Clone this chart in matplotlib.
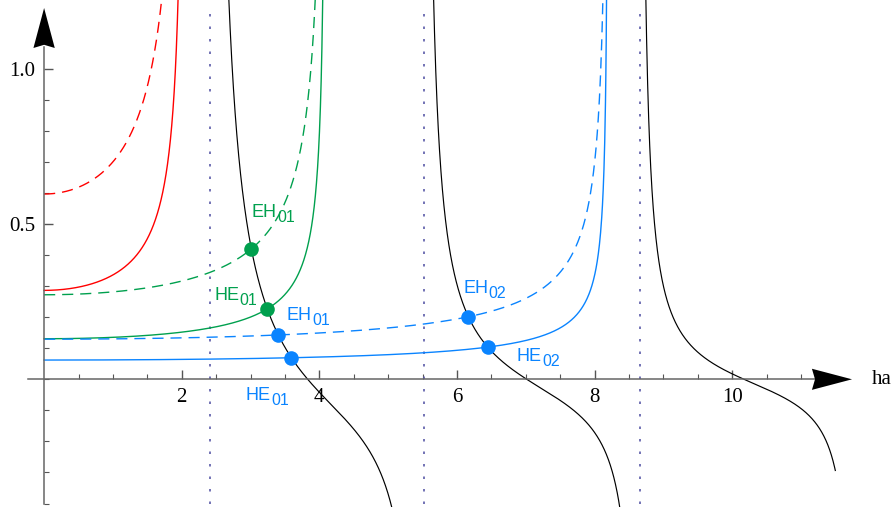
import numpy as np
import matplotlib.pyplot as plt
from matplotlib.patches import Polygon, Rectangle

plt.rcParams['font.family'] = ['Liberation Serif', 'DejaVu Serif']

# cladding curves: normalised frequency V of each family, and colours
v_values = [2.05, 4.1, 8.2]
v_colors = ['#ff0000', '#00a04e', '#0a84ff']
index_ratio = 0.48          # (n2/n1)^2, scales the solid (HE) curves
j0_zeros = [2.405, 5.520, 8.654]
ha_max = 11.5

# labelled crossings with the core curve
mode_names = ['EH', 'HE', 'EH', 'HE', 'EH', 'HE']
mode_index = ['01', '01', '01', '01', '02', '02']
mode_family = [1, 1, 2, 2, 2, 2]
mode_dashed = [True, False, True, False, True, False]
mode_branch = [0, 0, 0, 0, 1, 1]
label_x = [3.02, 2.47, 3.53, 2.93, 6.09, 6.87]
label_y = [0.524, 0.255, 0.191, -0.067, 0.278, 0.059]

# bessel functions from their integral forms (no scipy here)
t_j = np.linspace(0, np.pi, 801)
t_k = np.linspace(0, 12, 2401)

def besselj(n, x):
    f = np.cos(n * t_j[None, :] - x[:, None] * np.sin(t_j[None, :]))
    return np.trapezoid(f, t_j, axis=1) / np.pi

def besselk(n, x):
    f = np.exp(-x[:, None] * np.cosh(t_k[None, :])) * np.cosh(n * t_k[None, :])
    return np.trapezoid(f, t_k, axis=1)

def core(x):
    return -besselj(1, x) / (x * besselj(0, x))

def cladding(x, v):
    w = np.sqrt(v**2 - x**2)
    return besselk(1, w) / (w * besselk(0, w))

def crossing(v, scale, lo, hi):
    x = np.linspace(lo, min(hi, np.sqrt(v**2 - 0.04)), 2000)
    d = core(x) - scale * cladding(x, v)
    i = np.where(np.sign(d[:-1]) != np.sign(d[1:]))[0][0]
    return x[i] - d[i] * (x[i+1] - x[i]) / (d[i+1] - d[i])


fig = plt.figure(figsize=(8.94, 5.07), dpi=100)
ax = fig.add_axes([0, 0, 1, 1])
ax.set_xlim(-0.641, 12.353)
ax.set_ylim(-0.4111, 1.2212)
ax.patch.set_visible(False)

clip = Rectangle((0, -0.4), ha_max, 1.6, transform=ax.transData,
                 fill=False, visible=False)
ax.add_patch(clip)

# dotted asymptotes at the zeros of J0
for z in j0_zeros:
    ax.plot([z, z], [-0.4, 1.2], color='#5a5aa8', lw=1.2, dashes=(1.5, 6))

# cladding curves, dashed = EH, solid = HE
for v, c in zip(v_values, v_colors):
    x = np.linspace(0, np.sqrt(v**2 - 0.04), 1500)
    y = cladding(x, v)
    ax.plot(x, y, color=c, lw=1.0, dashes=(8.0, 5.0), clip_path=clip)
    ax.plot(x, index_ratio * y, color=c, lw=1.0, clip_path=clip)

# core curve, broken at each asymptote
xb = np.linspace(j0_zeros[0] + 0.005, ha_max, 3000)
yb = core(xb)
yb[np.abs(yb) > 3] = np.nan
ax.plot(xb, yb, color='black', lw=0.85, clip_path=clip)

# mode points and labels
for name, idx, fam, dashed, br, lx, ly in zip(mode_names, mode_index, mode_family,
                                              mode_dashed, mode_branch, label_x, label_y):
    v = v_values[fam]
    scale = 1.0 if dashed else index_ratio
    xc = crossing(v, scale, j0_zeros[br] + 0.01, j0_zeros[br + 1] - 0.01)
    yc = core(np.array([xc]))[0]
    ax.plot(xc, yc, 'o', color=v_colors[fam], ms=10.5, mew=0, zorder=5)
    t = ax.text(lx, ly, name, color=v_colors[fam], fontsize=13,
                family='Liberation Sans', ha='left', va='baseline')
    ax.annotate(idx, xy=(1, 0), xycoords=t, xytext=(0.2, -3.0),
                textcoords='offset points', color=v_colors[fam], fontsize=11.5,
                family='Liberation Sans', ha='left', va='bottom')

# axes through the origin
for side in ['top', 'right']:
    ax.spines[side].set_visible(False)
ax.spines['left'].set_position(('data', 0))
ax.spines['bottom'].set_position(('data', 0))
ax.spines['left'].set_bounds(-0.4, 1.07)
ax.spines['bottom'].set_bounds(-0.24, 11.2)
for side in ['left', 'bottom']:
    ax.spines[side].set_color('#666666')
    ax.spines[side].set_linewidth(1.1)

ax.set_xticks([2, 4, 6, 8, 10])
ax.set_xticks(np.arange(0.5, 11.01, 0.5), minor=True)
ax.set_yticks([0.5, 1.0])
ax.set_yticklabels(['0.5', '1.0'])
ax.set_yticks(np.round(np.arange(-0.4, 1.01, 0.1), 2), minor=True)
ax.tick_params(which='major', direction='in', length=6.5, width=1.0,
               color='#555555', labelsize=15, pad=6.5)
ax.tick_params(which='minor', direction='in', length=3.6, width=0.8,
               color='#555555')

# arrow heads
ax.add_patch(Polygon([[0, 1.1954], [0.155, 1.0667], [0, 1.077], [-0.155, 1.0667]],
                     closed=True, color='black', lw=0, zorder=6))
ax.add_patch(Polygon([[11.743, 0], [11.16, 0.034], [11.205, 0], [11.16, -0.034]],
                     closed=True, color='black', lw=0, zorder=6))
ax.text(12.18, 0, 'ha', fontsize=15, ha='center', va='center')

fig.savefig('out.png', dpi=100)
